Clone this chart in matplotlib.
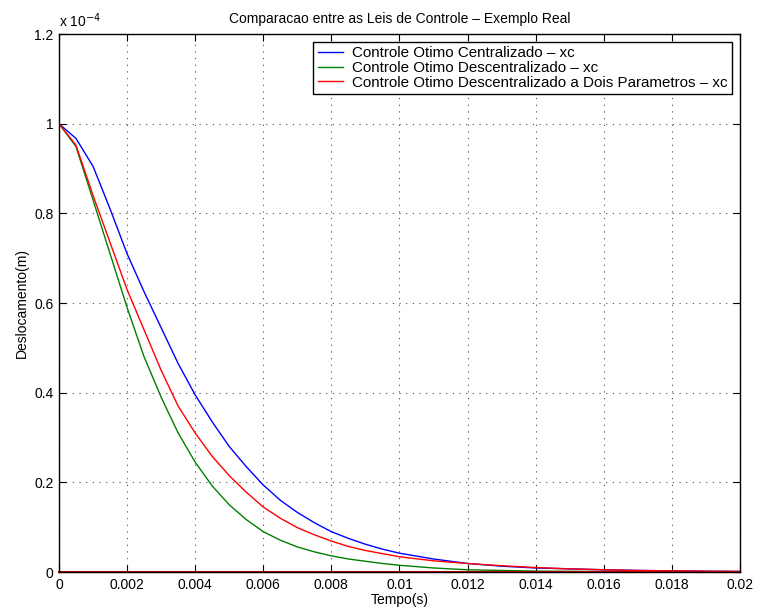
import numpy as np
import matplotlib
matplotlib.use('Agg')
import matplotlib.pyplot as plt

# tempo (s)
tempo = [0, 0.0005, 0.001, 0.0015, 0.002, 0.0025, 0.003, 0.0035, 0.004, 0.0045,
         0.005, 0.0055, 0.006, 0.0065, 0.007, 0.0075, 0.008, 0.0085, 0.009, 0.0095,
         0.010, 0.011, 0.012, 0.013, 0.014, 0.015, 0.016, 0.017, 0.018, 0.019, 0.020]

# deslocamento xc, em unidades de 1e-4 m
centralizado = [1.0, 0.967, 0.905, 0.81, 0.71, 0.625, 0.545, 0.465, 0.395, 0.335,
                0.28, 0.235, 0.194, 0.160, 0.133, 0.110, 0.090, 0.075, 0.062, 0.051,
                0.042, 0.029, 0.019, 0.013, 0.009, 0.007, 0.005, 0.0035, 0.0025, 0.0018, 0.0012]
descentralizado = [1.0, 0.949, 0.83, 0.71, 0.59, 0.48, 0.39, 0.31, 0.245, 0.192,
                   0.15, 0.117, 0.090, 0.071, 0.056, 0.045, 0.036, 0.029, 0.024, 0.019,
                   0.015, 0.009, 0.005, 0.0035, 0.002, 0.0015, 0.001, 0.0007, 0.0005, 0.0003, 0.0002]
dois_param = [1.0, 0.952, 0.84, 0.735, 0.63, 0.54, 0.45, 0.37, 0.31, 0.258,
              0.215, 0.178, 0.145, 0.12, 0.099, 0.083, 0.069, 0.057, 0.048, 0.041,
              0.034, 0.025, 0.019, 0.014, 0.010, 0.007, 0.005, 0.0035, 0.0025, 0.0018, 0.0012]
escala = 1e-4

xticks = [0, 0.002, 0.004, 0.006, 0.008, 0.01, 0.012, 0.014, 0.016, 0.018, 0.02]
xlabels = ['0', '0.002', '0.004', '0.006', '0.008', '0.01', '0.012', '0.014', '0.016', '0.018', '0.02']
yticks = [0, 0.2, 0.4, 0.6, 0.8, 1.0, 1.2]
ylabels = ['0', '0.2', '0.4', '0.6', '0.8', '1', '1.2']

plt.rcParams['font.family'] = ['Liberation Sans', 'DejaVu Sans']
plt.rcParams['font.size'] = 10

fig = plt.figure(figsize=(7.57, 6.15), dpi=100)
ax = fig.add_axes([0.0779, 0.0699, 0.8996, 0.8748])

t = np.array(tempo)
ax.plot(t, np.array(centralizado) * escala, color=(0, 0, 1), lw=1.0,
        label='Controle Otimo Centralizado \u2013 xc')
ax.plot(t, np.array(descentralizado) * escala, color=(0, 0.5, 0), lw=1.0,
        label='Controle Otimo Descentralizado \u2013 xc')
ax.plot(t, np.array(dois_param) * escala, color=(1, 0, 0), lw=1.0,
        label='Controle Otimo Descentralizado a Dois Parametros \u2013 xc')
# demais estados (nulos)
ax.plot(t, np.zeros_like(t), color=(0.8, 0, 0), lw=1.5, clip_on=False)

ax.set_xlim(0, 0.02)
ax.set_ylim(0, 1.2 * escala)
ax.set_xticks(xticks)
ax.set_xticklabels(xlabels)
ax.set_yticks([v * escala for v in yticks])
ax.set_yticklabels(ylabels)
ax.tick_params(direction='in', top=True, right=True, length=5, width=0.8, pad=4)
ax.grid(True, linestyle=(0, (1, 5)), color='0.3', lw=0.8)
for s in ax.spines.values():
    s.set_linewidth(1.0)

ax.text(0.0, 1.008, r'x 10$^{-4}$', transform=ax.transAxes, ha='left', va='bottom', fontsize=10)
ax.set_title('Comparacao entre as Leis de Controle \u2013 Exemplo Real', fontsize=10, pad=8)
ax.set_xlabel('Tempo(s)', labelpad=1)
ax.set_ylabel('Deslocamento(m)', labelpad=4)

leg = ax.legend(loc='upper right', fancybox=False, edgecolor='black', framealpha=1,
                handlelength=1.7, handletextpad=0.6, borderpad=0.3, labelspacing=0.05,
                borderaxespad=0.5, fontsize=10.9)
leg.get_frame().set_linewidth(1.0)

fig.savefig('out.png', dpi=100)
